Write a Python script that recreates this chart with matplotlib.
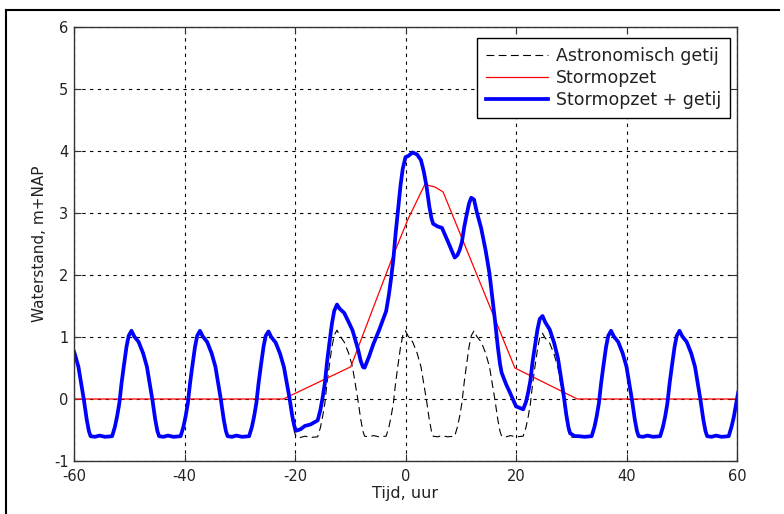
import numpy as np
import matplotlib
matplotlib.use("Agg")
import matplotlib.pyplot as plt
from matplotlib.lines import Line2D

plt.rcParams['font.family'] = ['DejaVu Sans']
plt.rcParams['axes.unicode_minus'] = False

tide_t = [-60.7, -59.9, -59.2, -58.7, -58.2, -57.7, -57.3, -57.0, -56.2, -55.4, -54.4,
          -53.1, -52.6, -52.2, -51.8, -51.4, -51.0, -50.5, -50.1, -49.6, -49.1, -48.3,
          -47.5, -46.8, -46.3, -45.8, -45.3, -44.9, -44.6, -43.8, -43.0, -42.0,
          -40.7, -40.2, -39.8, -39.4, -39.0, -38.6, -38.1, -37.7, -37.2, -36.7, -35.9,
          -35.1, -34.4, -33.9, -33.4, -32.9, -32.5, -32.2, -31.4, -30.6, -29.6,
          -28.3, -27.8, -27.4, -27.0, -26.6, -26.2, -25.7, -25.3, -24.8, -24.3, -23.5,
          -22.7, -22.0, -21.5, -21.0, -20.5, -20.1, -19.8, -19.0, -18.2, -17.2,
          -15.9, -15.4, -15.0, -14.6, -14.2, -13.8, -13.3, -12.9, -12.4, -11.9, -11.1,
          -10.3, -9.6, -9.1, -8.6, -8.1, -7.7, -7.4, -6.6, -5.8, -4.8,
          -3.5, -3.0, -2.6, -2.2, -1.8, -1.4, -0.9, -0.5, 0.0, 0.5, 1.3,
          2.1, 2.8, 3.3, 3.8, 4.3, 4.7, 5.0, 5.8, 6.6, 7.6,
          8.9, 9.4, 9.8, 10.2, 10.6, 11.0, 11.5, 11.9, 12.4, 12.9, 13.7,
          14.5, 15.2, 15.7, 16.2, 16.7, 17.1, 17.4, 18.2, 19.0, 20.0,
          21.3, 21.8, 22.2, 22.6, 23.0, 23.4, 23.9, 24.3, 24.8, 25.3, 26.1,
          26.9, 27.6, 28.1, 28.6, 29.1, 29.5, 29.8, 30.6, 31.4, 32.4,
          33.7, 34.2, 34.6, 35.0, 35.4, 35.8, 36.3, 36.7, 37.2, 37.7, 38.5,
          39.3, 40.0, 40.5, 41.0, 41.5, 41.9, 42.2, 43.0, 43.8, 44.8,
          46.1, 46.6, 47.0, 47.4, 47.8, 48.2, 48.7, 49.1, 49.6, 50.1, 50.9,
          51.7, 52.4, 52.9, 53.4, 53.9, 54.3, 54.6, 55.4, 56.2, 57.2,
          58.5, 59.0, 59.4, 59.8, 60.2]
tide_y = [0.92, 0.74, 0.52, 0.25, -0.02, -0.33, -0.52, -0.60, -0.61, -0.59, -0.61,
          -0.60, -0.45, -0.28, -0.07, 0.25, 0.52, 0.84, 1.02, 1.10, 1.01, 0.92,
          0.74, 0.52, 0.25, -0.02, -0.33, -0.52, -0.60, -0.61, -0.59, -0.61,
          -0.60, -0.45, -0.28, -0.07, 0.25, 0.52, 0.84, 1.02, 1.10, 1.01, 0.92,
          0.74, 0.52, 0.25, -0.02, -0.33, -0.52, -0.60, -0.61, -0.59, -0.61,
          -0.60, -0.45, -0.28, -0.07, 0.25, 0.52, 0.84, 1.02, 1.09, 1.00, 0.91,
          0.73, 0.51, 0.24, -0.03, -0.34, -0.53, -0.61, -0.62, -0.60, -0.62,
          -0.61, -0.46, -0.28, -0.07, 0.26, 0.53, 0.85, 1.03, 1.11, 1.02, 0.92,
          0.74, 0.52, 0.25, -0.02, -0.33, -0.52, -0.60, -0.61, -0.59, -0.61,
          -0.60, -0.45, -0.28, -0.07, 0.25, 0.52, 0.84, 1.02, 1.10, 1.01, 0.92,
          0.74, 0.52, 0.25, -0.02, -0.33, -0.52, -0.60, -0.61, -0.59, -0.61,
          -0.60, -0.45, -0.28, -0.07, 0.25, 0.52, 0.84, 1.02, 1.10, 1.01, 0.92,
          0.74, 0.52, 0.25, -0.02, -0.33, -0.52, -0.60, -0.61, -0.59, -0.61,
          -0.60, -0.46, -0.29, -0.08, 0.24, 0.50, 0.81, 0.99, 1.06, 0.98, 0.90,
          0.72, 0.50, 0.24, -0.03, -0.34, -0.53, -0.61, -0.62, -0.60, -0.61,
          -0.60, -0.45, -0.28, -0.07, 0.25, 0.52, 0.84, 1.02, 1.10, 1.01, 0.92,
          0.74, 0.52, 0.25, -0.02, -0.33, -0.52, -0.60, -0.61, -0.59, -0.61,
          -0.60, -0.45, -0.28, -0.07, 0.25, 0.52, 0.84, 1.02, 1.10, 1.01, 0.92,
          0.74, 0.52, 0.25, -0.02, -0.33, -0.52, -0.60, -0.61, -0.59, -0.61,
          -0.60, -0.45, -0.30, -0.10, 0.10]

# stormopzet (uur, m)
surge_t = [-60.0, -22.1, -9.9, -2.3, 0.5, 3.5, 5.3, 6.8, 19.8, 31.1, 60.0]
surge_y = [0.0, 0.0, 0.52, 2.30, 2.91, 3.46, 3.42, 3.34, 0.50, 0.0, 0.0]

labels = ["Astronomisch getij", "Stormopzet", "Stormopzet + getij"]

tide_t = np.array(tide_t)
tide_y = np.array(tide_y)
total_y = tide_y + np.interp(tide_t, surge_t, surge_y)

fig = plt.figure(figsize=(7.84, 5.14), dpi=100)
ax = fig.add_axes([74 / 784, 53 / 514, 663 / 784, 434 / 514])

ax.plot(tide_t, tide_y, color="black", lw=0.8, dashes=(7, 4), label=labels[0])
ax.plot(surge_t, surge_y, color="red", lw=0.9, label=labels[1])
ax.plot(tide_t, total_y, color="blue", lw=2.7, label=labels[2])

ax.set_xlim(-60, 60)
ax.set_ylim(-1, 6)
ax.set_xticks(np.arange(-60, 61, 20))
ax.set_yticks(np.arange(-1, 7, 1))
ax.grid(True, color="black", lw=0.8, linestyle=(0, (3, 4)))
ax.tick_params(direction="in", length=5, top=True, right=True, labelsize=10.5,
               colors="#333333", labelcolor="#222222")
ax.tick_params(axis="x", pad=6)
ax.tick_params(axis="y", pad=4)
for s in ax.spines.values():
    s.set_color("#333333")
    s.set_linewidth(1.0)

ax.set_xlabel("Tijd, uur", fontsize=11.5, labelpad=1, color="#222222")
ax.set_ylabel("Waterstand, m+NAP", fontsize=11, labelpad=5, color="#222222")

leg = ax.legend(loc="upper right", bbox_to_anchor=(1 - 7 / 663, 1 - 11 / 434),
                borderaxespad=0, fontsize=12.5, handlelength=3.6,
                fancybox=False, framealpha=1, edgecolor="black",
                labelspacing=0.25, handletextpad=0.45, borderpad=0.5)
leg.get_frame().set_linewidth(1.0)
for t in leg.get_texts():
    t.set_color("#222222")

# rand om de figuur (links en boven)
fig.add_artist(Line2D([6 / 784, 6 / 784], [0, 1 - 10 / 514], color="black", lw=1.5))
fig.add_artist(Line2D([6 / 784, 779 / 784], [1 - 10 / 514, 1 - 10 / 514], color="black", lw=1.5))

fig.savefig("out.png", dpi=100)
